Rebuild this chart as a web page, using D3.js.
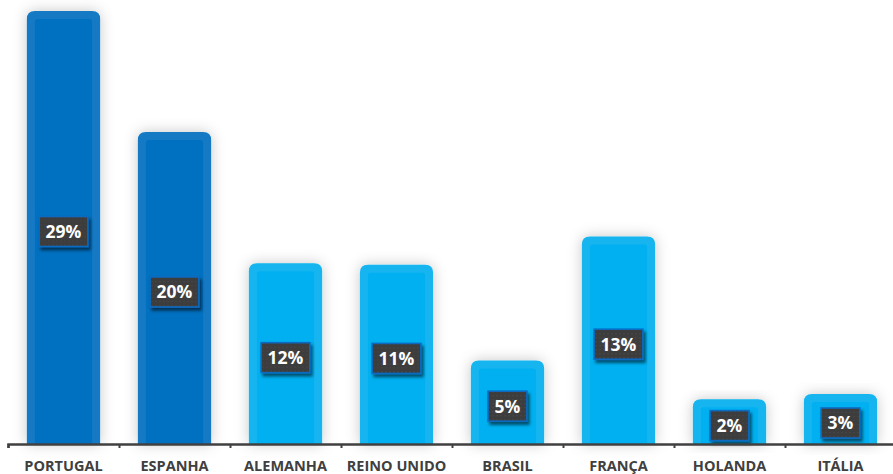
<!DOCTYPE html>
<html>
<head>
<meta charset="utf-8">
<script src="https://cdn.jsdelivr.net/npm/d3@7"></script>
<style>
  html, body { margin: 0; padding: 0; background: #fff; }
  svg { display: block; font-family: 'Open Sans', 'Noto Sans', sans-serif; }
</style>
</head>
<body>
<div id="chart"></div>
<script>
// Data
var paises = ['PORTUGAL', 'ESPANHA', 'ALEMANHA', 'REINO UNIDO', 'BRASIL', 'FRANÇA', 'HOLANDA', 'ITÁLIA']
// bar heights as drawn (in %)
var alturas = [29, 20.9, 12.1, 12.0, 5.6, 13.9, 3.0, 3.35]
// printed labels
var rotulos = ['29%', '20%', '12%', '11%', '5%', '13%', '2%', '3%']
var destaque = ['PORTUGAL', 'ESPANHA']

var chart = {
  width: 893,
  height: 474,
  baseline: 444,
  top: 11
}

var svg = d3.select('#chart')
  .append('svg')
  .attr('width', chart.width)
  .attr('height', chart.height)

var defs = svg.append('defs')

// soft glow behind the bars
var glow = defs.append('filter')
  .attr('id', 'glow')
  .attr('x', '-40%').attr('y', '-20%')
  .attr('width', '180%').attr('height', '140%')
glow.append('feDropShadow')
  .attr('dx', 0).attr('dy', 0)
  .attr('stdDeviation', 7)
  .attr('flood-color', '#000')
  .attr('flood-opacity', 0.22)

// hard shadow for the label boxes
var boxShadow = defs.append('filter')
  .attr('id', 'boxShadow')
  .attr('x', '-30%').attr('y', '-30%')
  .attr('width', '160%').attr('height', '160%')
boxShadow.append('feDropShadow')
  .attr('dx', 2).attr('dy', 3)
  .attr('stdDeviation', 1.8)
  .attr('flood-color', '#000')
  .attr('flood-opacity', 0.55)

// dotted texture for the label boxes
var dots = defs.append('pattern')
  .attr('id', 'dots')
  .attr('width', 4).attr('height', 4)
  .attr('patternUnits', 'userSpaceOnUse')
dots.append('rect').attr('width', 4).attr('height', 4).attr('fill', '#3d3d3d')
dots.append('rect').attr('x', 1).attr('y', 1).attr('width', 1).attr('height', 1).attr('fill', '#4e4e4e')

// Scales
var x = d3.scaleBand()
  .domain(paises)
  .range([8, 896])
  .paddingInner(0.34)
  .paddingOuter(0.17)

var y = d3.scaleLinear()
  .domain([0, 29])
  .range([chart.baseline, chart.top])

var limites = d3.scaleLinear()
  .domain([0, paises.length])
  .range([8, 896])

function barPath(x0, y0, w, h, r) {
  return `M ${x0} ${y0 + h} L ${x0} ${y0 + r} Q ${x0} ${y0} ${x0 + r} ${y0} ` +
    `L ${x0 + w - r} ${y0} Q ${x0 + w} ${y0} ${x0 + w} ${y0 + r} L ${x0 + w} ${y0 + h} Z`
}

var data = paises.map(function (p, i) {
  return { pais: p, valor: alturas[i], rotulo: rotulos[i] }
})

// Bars
var bars = svg.append('g').selectAll('g.bar')
  .data(data)
  .enter()
  .append('g')
  .attr('class', 'bar')

bars.append('path')
  .attr('d', function (d) {
    return barPath(x(d.pais), y(d.valor), x.bandwidth(), chart.baseline - y(d.valor), 8)
  })
  .attr('fill', function (d) { return destaque.includes(d.pais) ? '#1679c3' : '#14b5ef' })
  .attr('filter', 'url(#glow)')

bars.append('path')
  .attr('d', function (d) {
    let h = chart.baseline - y(d.valor) - 8
    return barPath(x(d.pais) + 8, y(d.valor) + 8, x.bandwidth() - 16, Math.max(h, 0), 3)
  })
  .attr('fill', function (d) { return destaque.includes(d.pais) ? '#0070c0' : '#00b0f0' })

// Axis line and boundary ticks
var eixo = svg.append('g')
  .attr('transform', `translate(0, ${chart.baseline})`)
  .call(d3.axisBottom(limites).tickValues(d3.range(paises.length + 1)).tickSize(4).tickFormat(''))
eixo.select('.domain').attr('stroke', '#404040').attr('stroke-width', 2.5)
eixo.selectAll('.tick line').attr('stroke', '#404040').attr('stroke-width', 2)

// Category labels
var categorias = svg.append('g')
  .attr('transform', `translate(0, ${chart.baseline})`)
  .call(d3.axisBottom(x).tickSize(0).tickPadding(0))
categorias.select('.domain').remove()
categorias.selectAll('.tick text')
  .attr('y', 27)
  .attr('dy', 0)
  .attr('fill', '#404040')
  .style('font-size', '14.5px')
  .style('font-weight', 'bold')
  .style('font-family', "'Open Sans', sans-serif")

// Value labels
var labels = bars.append('g')
  .attr('transform', function (d) {
    let cx = x(d.pais) + x.bandwidth() / 2
    let cy = (y(d.valor) + chart.baseline) / 2 + 4
    return `translate(${cx}, ${cy})`
  })

labels.each(function (d) {
  let g = d3.select(this)
  let box = g.append('rect')
  let text = g.append('text')
    .attr('text-anchor', 'middle')
    .attr('dy', '0.36em')
    .attr('fill', '#fff')
    .style('font-size', '17.5px')
    .style('font-weight', 'bold')
    .text(d.rotulo)
  let w = text.node().getComputedTextLength() + 13
  box.attr('x', -w / 2)
    .attr('y', -15)
    .attr('width', w)
    .attr('height', 30)
    .attr('fill', 'url(#dots)')
    .attr('stroke', '#0a6bc0')
    .attr('stroke-width', 1.6)
    .attr('filter', 'url(#boxShadow)')
})
</script>
</body>
</html>
